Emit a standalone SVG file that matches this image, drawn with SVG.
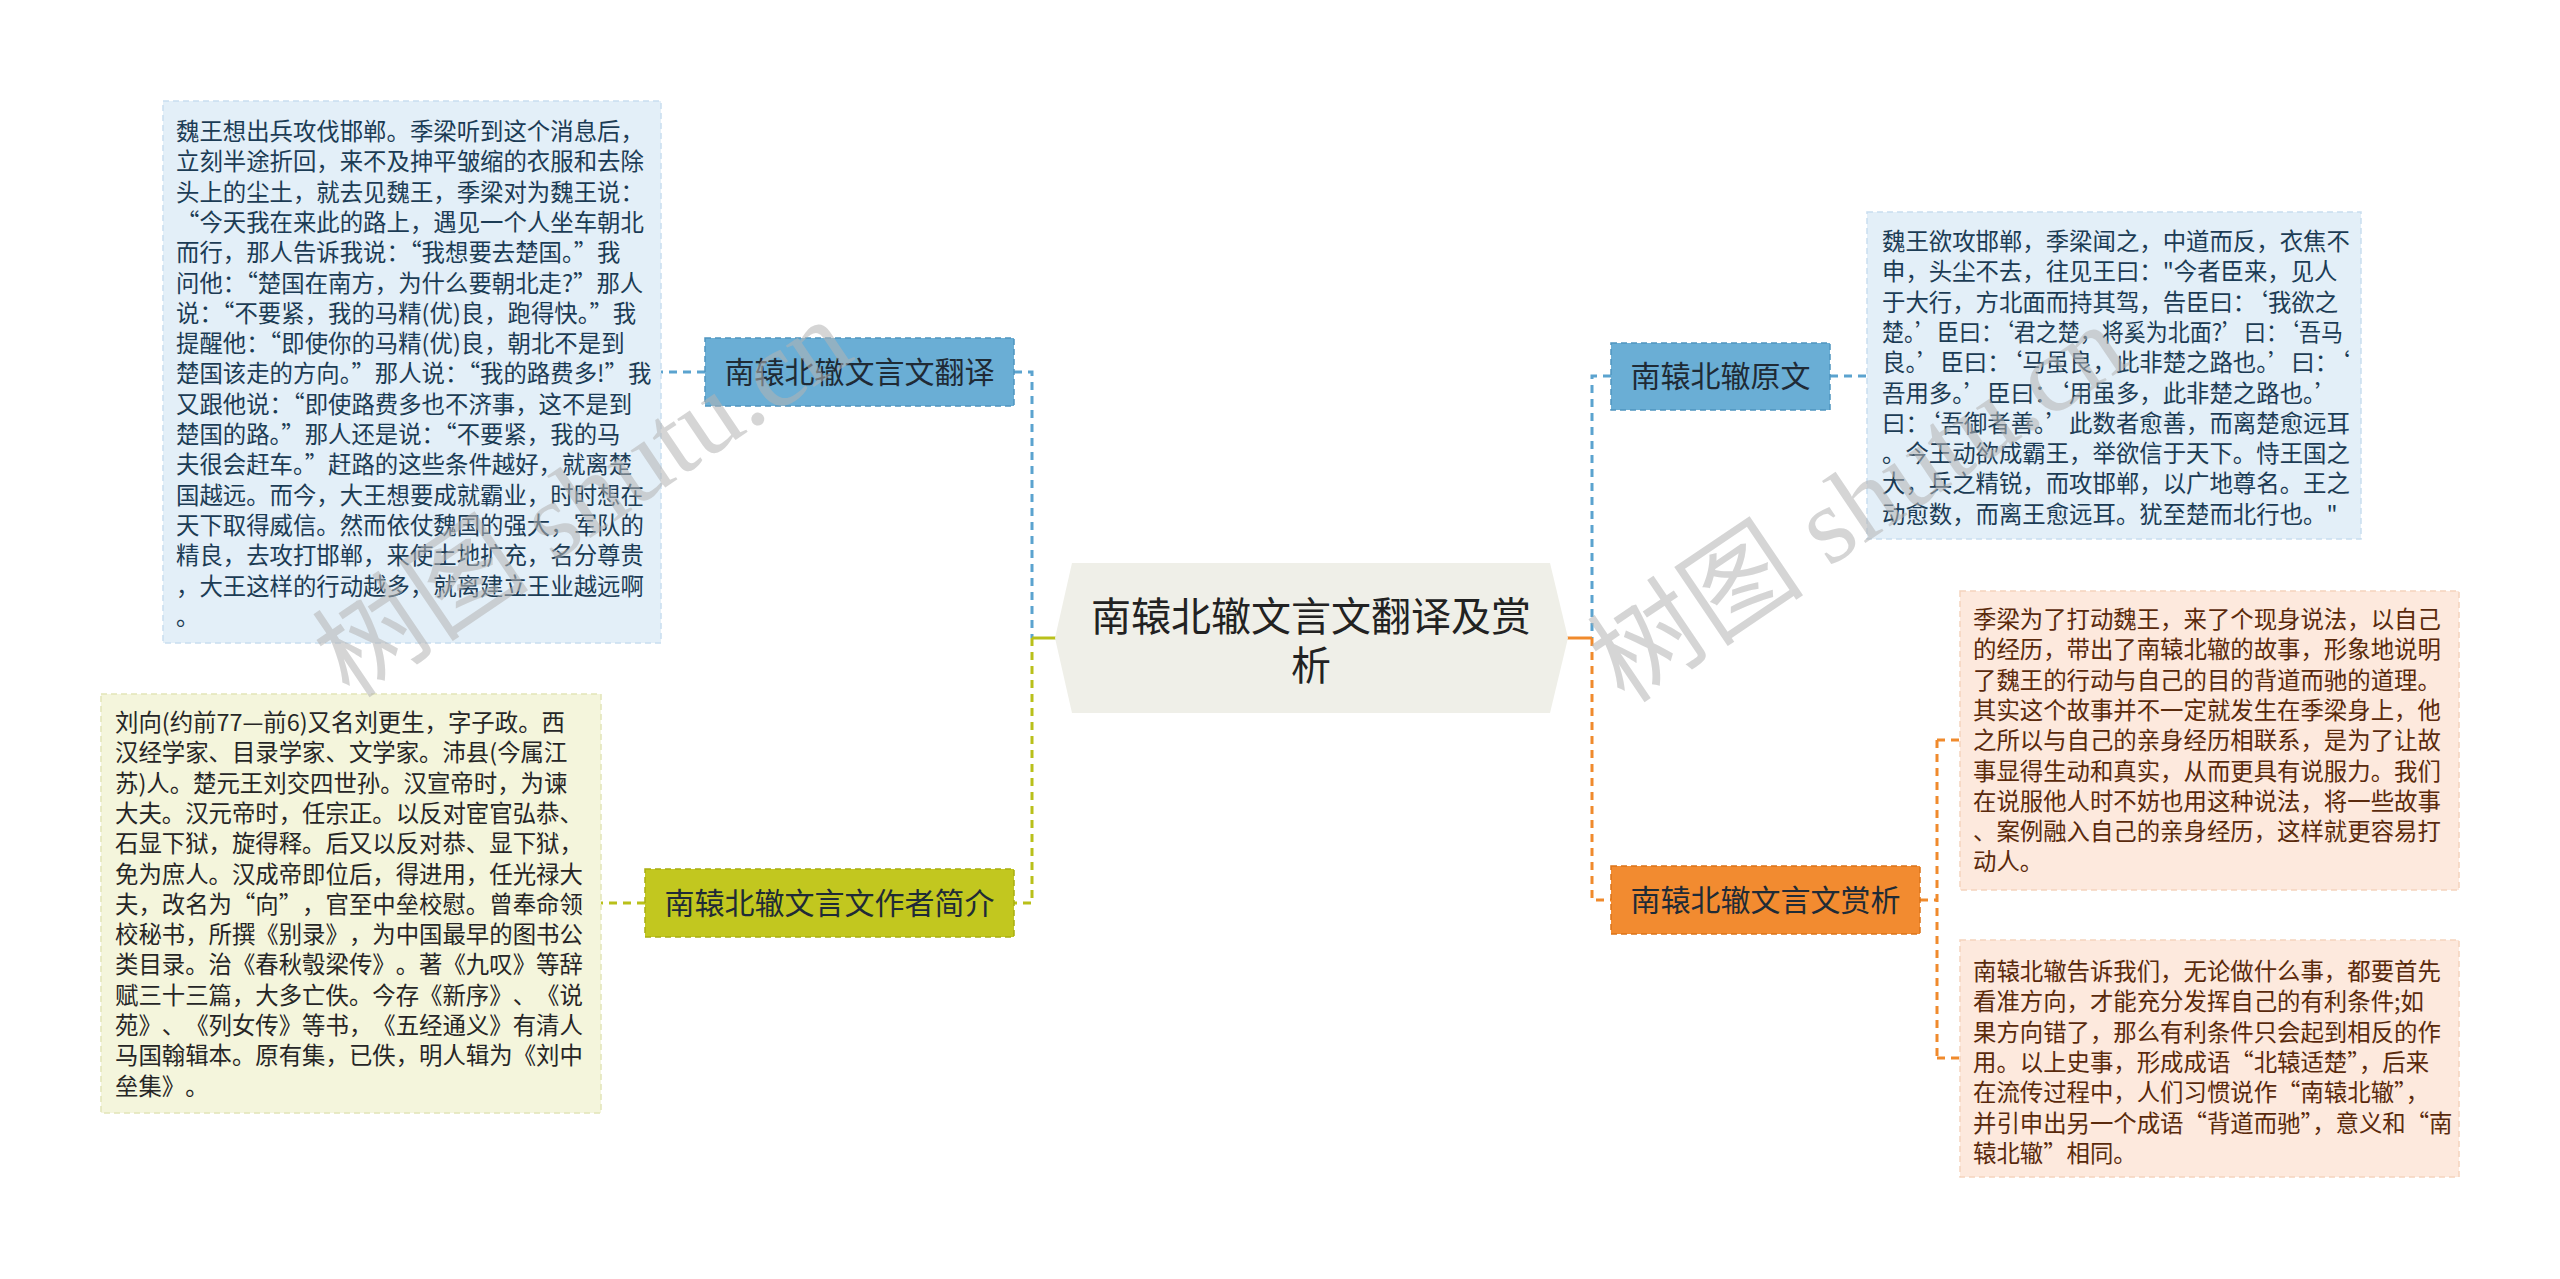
<svg xmlns="http://www.w3.org/2000/svg" width="2560" height="1279" viewBox="0 0 2560 1279">
<style>
.cjk{font-family:"Noto Sans CJK SC","Liberation Sans",sans-serif}
.untrim{text-spacing-trim:space-all}
.leaf{font-size:23.4px}
.tb{fill:#1c3c55}
.ty{fill:#262626}
.to{fill:#5a2a0c}
.bn{fill:#e3eff8;stroke:#c9def0;stroke-width:1.5;stroke-dasharray:6 4}
.yn{fill:#f4f5dc;stroke:#e2e5b8;stroke-width:1.5;stroke-dasharray:6 4}
.on{fill:#fde9dd;stroke:#f5d3bd;stroke-width:1.5;stroke-dasharray:6 4}
.lbl{font-size:30px;fill:#1f2b36;text-anchor:middle}
.c{fill:none;stroke-width:3;stroke-dasharray:8 6}
.cb{stroke:#5ba3cf}
.cy{stroke:#b9c01a}
.co{stroke:#f08a2c}
.wm{font-family:"Liberation Serif","Noto Sans CJK SC",serif;font-size:109px;fill:#b4b4b4;opacity:0.55}
</style>
<rect width="2560" height="1279" fill="#ffffff"/>
<g id="connectors">
<path class="c cb" d="M1014 372 H1032 V638"/>
<path class="c cy" d="M1032 638 V903 H1014"/>
<path d="M1032 638 H1058" stroke="#b9c01a" stroke-width="3" fill="none"/>
<path class="c cb" d="M1611 376 H1592 V638"/>
<path class="c co" d="M1592 638 V900 H1611"/>
<path d="M1566 638 H1592" stroke="#f08a2c" stroke-width="3" fill="none"/>
<path class="c cb" d="M705 372 H661"/>
<path class="c cy" d="M645 903 H601"/>
<path class="c cb" d="M1830 376 H1866"/>
<path class="c co" d="M1920 900 H1937 M1937 740 V1058 M1937 740 H1959 M1937 1058 H1959"/>
</g>
<g id="root">
<polygon points="1055,638 1072,563 1550,563 1568,638 1550,713 1072,713" fill="#efefe8"/>
<text class="cjk" x="1311" y="631" font-size="40" fill="#222" text-anchor="middle">南辕北辙文言文翻译及赏</text>
<text class="cjk" x="1311" y="680" font-size="40" fill="#222" text-anchor="middle">析</text>
</g>
<g id="n-translation">
<rect x="705" y="338" width="309" height="68" fill="#6aaed5" stroke="#4f95c0" stroke-width="1.5" stroke-dasharray="6 4"/>
<text class="cjk lbl" x="859.5" y="383">南辕北辙文言文翻译</text>
</g>
<g id="n-author">
<rect x="645" y="869" width="369" height="68" fill="#c2c71f" stroke="#a9ae10" stroke-width="1.5" stroke-dasharray="6 4"/>
<text class="cjk lbl" x="829.5" y="914">南辕北辙文言文作者简介</text>
</g>
<g id="n-original">
<rect x="1611" y="343" width="219" height="67" fill="#6aaed5" stroke="#4f95c0" stroke-width="1.5" stroke-dasharray="6 4"/>
<text class="cjk lbl" x="1720.5" y="387">南辕北辙原文</text>
</g>
<g id="n-appreciation">
<rect x="1611" y="866" width="309" height="68" fill="#f28b30" stroke="#dc7418" stroke-width="1.5" stroke-dasharray="6 4"/>
<text class="cjk lbl" x="1765.5" y="911">南辕北辙文言文赏析</text>
</g>
<g id="leaf-translation">
<rect class="bn" x="163" y="101" width="498" height="542"/>
<text class="cjk leaf tb">
<tspan x="176" y="140">魏王想出兵攻伐邯郸。季梁听到这个消息后，</tspan>
<tspan x="176" y="170.3">立刻半途折回，来不及抻平皱缩的衣服和去除</tspan>
<tspan x="176" y="200.6">头上的尘土，就去见魏王，季梁对为魏王说：</tspan>
<tspan x="176" y="230.9">“今天我在来此的路上，遇见一个人坐车朝北</tspan>
<tspan x="176" y="261.2">而行，那人告诉我说：“我想要去楚国。”我</tspan>
<tspan x="176" y="291.5">问他：“楚国在南方，为什么要朝北走?”那人</tspan>
<tspan x="176" y="321.8">说：“不要紧，我的马精(优)良，跑得快。”我</tspan>
<tspan x="176" y="352.1">提醒他：“即使你的马精(优)良，朝北不是到</tspan>
<tspan x="176" y="382.4">楚国该走的方向。”那人说：“我的路费多!”我</tspan>
<tspan x="176" y="412.7">又跟他说：“即使路费多也不济事，这不是到</tspan>
<tspan x="176" y="443">楚国的路。”那人还是说：“不要紧，我的马</tspan>
<tspan x="176" y="473.3">夫很会赶车。”赶路的这些条件越好，就离楚</tspan>
<tspan x="176" y="503.6">国越远。而今，大王想要成就霸业，时时想在</tspan>
<tspan x="176" y="533.9">天下取得威信。然而依仗魏国的强大，军队的</tspan>
<tspan x="176" y="564.2">精良，去攻打邯郸，来使土地扩充，名分尊贵</tspan>
<tspan x="176" y="594.5">，大王这样的行动越多，就离建立王业越远啊</tspan>
<tspan x="176" y="624.8">。</tspan>
</text>
</g>
<g id="leaf-author">
<rect class="yn" x="101" y="694" width="500" height="419"/>
<text class="cjk leaf ty untrim">
<tspan x="115" y="731">刘向(约前77—前6)又名刘更生，字子政。西</tspan>
<tspan x="115" y="761.3">汉经学家、目录学家、文学家。沛县(今属江</tspan>
<tspan x="115" y="791.6">苏)人。楚元王刘交四世孙。汉宣帝时，为谏</tspan>
<tspan x="115" y="821.9">大夫。汉元帝时，任宗正。以反对宦官弘恭、</tspan>
<tspan x="115" y="852.2">石显下狱，旋得释。后又以反对恭、显下狱，</tspan>
<tspan x="115" y="882.5">免为庶人。汉成帝即位后，得进用，任光禄大</tspan>
<tspan x="115" y="912.8">夫，改名为“向”，官至中垒校慰。曾奉命领</tspan>
<tspan x="115" y="943.1">校秘书，所撰《别录》，为中国最早的图书公</tspan>
<tspan x="115" y="973.4">类目录。治《春秋彀梁传》。著《九叹》等辞</tspan>
<tspan x="115" y="1003.7">赋三十三篇，大多亡佚。今存《新序》、《说</tspan>
<tspan x="115" y="1034">苑》、《列女传》等书，《五经通义》有清人</tspan>
<tspan x="115" y="1064.3">马国翰辑本。原有集，已佚，明人辑为《刘中</tspan>
<tspan x="115" y="1094.6">垒集》。</tspan>
</text>
</g>
<g id="leaf-original">
<rect class="bn" x="1867" y="212" width="494" height="327"/>
<text class="cjk leaf tb">
<tspan x="1882" y="250">魏王欲攻邯郸，季梁闻之，中道而反，衣焦不</tspan>
<tspan x="1882" y="280.3">申，头尘不去，往见王曰："今者臣来，见人</tspan>
<tspan x="1882" y="310.6">于大行，方北面而持其驾，告臣曰：‘我欲之</tspan>
</text>
<text class="cjk leaf tb" x="1882" y="340.9" textLength="461" lengthAdjust="spacingAndGlyphs">楚。’臣曰：‘君之楚，将奚为北面?’曰：‘吾马</text>
<text class="cjk leaf tb">
<tspan x="1882" y="371.2">良。’臣曰：‘马虽良，此非楚之路也。’曰：‘</tspan>
<tspan x="1882" y="401.5">吾用多。’臣曰：‘用虽多，此非楚之路也。’</tspan>
<tspan x="1882" y="431.8">曰：‘吾御者善。’此数者愈善，而离楚愈远耳</tspan>
<tspan x="1882" y="462.1">。今王动欲成霸王，举欲信于天下。恃王国之</tspan>
<tspan x="1882" y="492.4">大，兵之精锐，而攻邯郸，以广地尊名。王之</tspan>
<tspan x="1882" y="522.7">动愈数，而离王愈远耳。犹至楚而北行也。"</tspan>
</text>
</g>
<g id="leaf-appreciation-1">
<rect class="on" x="1960" y="591" width="499" height="299"/>
<text class="cjk leaf to">
<tspan x="1973" y="628">季梁为了打动魏王，来了个现身说法，以自己</tspan>
<tspan x="1973" y="658.3">的经历，带出了南辕北辙的故事，形象地说明</tspan>
<tspan x="1973" y="688.6">了魏王的行动与自己的目的背道而驰的道理。</tspan>
<tspan x="1973" y="718.9">其实这个故事并不一定就发生在季梁身上，他</tspan>
<tspan x="1973" y="749.2">之所以与自己的亲身经历相联系，是为了让故</tspan>
<tspan x="1973" y="779.5">事显得生动和真实，从而更具有说服力。我们</tspan>
<tspan x="1973" y="809.8">在说服他人时不妨也用这种说法，将一些故事</tspan>
<tspan x="1973" y="840.1">、案例融入自己的亲身经历，这样就更容易打</tspan>
<tspan x="1973" y="870.4">动人。</tspan>
</text>
</g>
<g id="leaf-appreciation-2">
<rect class="on" x="1960" y="940" width="499" height="237"/>
<text class="cjk leaf to">
<tspan x="1973" y="980">南辕北辙告诉我们，无论做什么事，都要首先</tspan>
<tspan x="1973" y="1010.3">看准方向，才能充分发挥自己的有利条件;如</tspan>
<tspan x="1973" y="1040.6">果方向错了，那么有利条件只会起到相反的作</tspan>
<tspan x="1973" y="1070.9">用。以上史事，形成成语“北辕适楚”，后来</tspan>
<tspan x="1973" y="1101.2">在流传过程中，人们习惯说作“南辕北辙”，</tspan>
<tspan x="1973" y="1131.5">并引申出另一个成语“背道而驰”，意义和“南</tspan>
<tspan x="1973" y="1161.8">辕北辙”相同。</tspan>
</text>
</g>
<g id="watermarks">
<text class="wm" transform="translate(350 700) rotate(-34)">树图 shutu.cn</text>
<text class="wm" transform="translate(1625 705) rotate(-34)">树图 shutu.cn</text>
</g>
</svg>
